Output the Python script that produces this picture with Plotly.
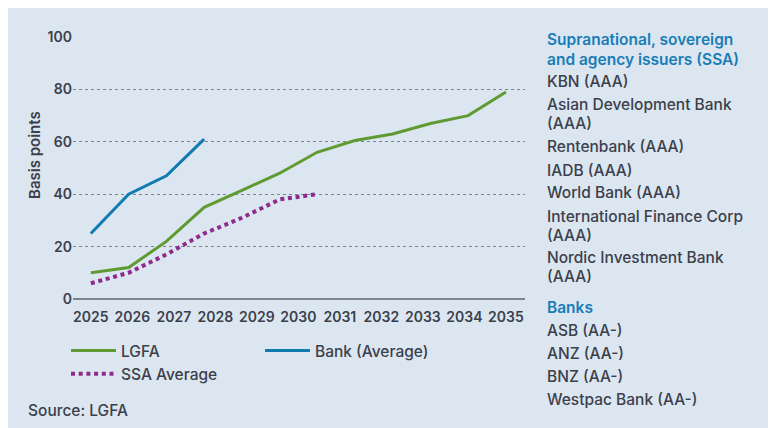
import plotly.graph_objects as go

# ---- data ----
x_points = [2025.0, 2025.91, 2026.82, 2027.73, 2028.64, 2029.55,
            2030.45, 2031.36, 2032.27, 2033.18, 2034.09, 2035.0]
lgfa = [10, 12, 22, 35, 41.5, 48, 56, 60.5, 63, 67, 70, 79]
bank_avg = [25, 40, 47, 61]
ssa_avg = [6, 10, 17, 25, 31, 38, 40]
year_ticks = list(range(2025, 2036))
y_ticks = [0, 20, 40, 60, 80, 100]

ssa_title = ["Supranational, sovereign", "and agency issuers (SSA)"]
ssa_list = ["KBN (AAA)", "Asian Development Bank", "(AAA)", "Rentenbank (AAA)",
            "IADB (AAA)", "World Bank (AAA)", "International Finance Corp",
            "(AAA)", "Nordic Investment Bank", "(AAA)"]
bank_title = ["Banks"]
bank_list = ["ASB (AA-)", "ANZ (AA-)", "BNZ (AA-)", "Westpac Bank (AA-)"]

# ---- style ----
W, H = 776, 428
OFF = 8  # page body margin offset
ML, MT = 73 - OFF, 37 - OFF
PW, PH = 452, 262
MR, MB = W - ML - PW, H - MT - PH
BG = "#dbe6f1"
TXT = "#3b404b"
BLUE_T = "#1a7db6"
FONT = "Inter"


def px_x(px):
    return (px - OFF - ML) / PW


def px_y(py):
    return 1 - (py - OFF - MT) / PH


fig = go.Figure()
fig.add_trace(go.Scatter(x=x_points[:len(lgfa)], y=lgfa, name="LGFA", mode="lines",
                         line=dict(color="#5f9b32", width=3)))
fig.add_trace(go.Scatter(x=x_points[:len(bank_avg)], y=bank_avg, name="Bank (Average)",
                         mode="lines", line=dict(color="#0f7bb1", width=3)))
fig.add_trace(go.Scatter(x=x_points[:len(ssa_avg)], y=ssa_avg, name="SSA Average",
                         mode="lines", line=dict(color="#8e2b8c", width=4, dash="4px,3.7px")))

annotations = []
annotations.append(dict(text="Basis points", textangle=-90, xref="paper", yref="paper",
                        x=px_x(34), y=px_y(155), xanchor="center", yanchor="middle",
                        showarrow=False,
                        font=dict(family=FONT, size=15, color=TXT, weight=600)))
annotations.append(dict(text="Source: LGFA", xref="paper", yref="paper",
                        x=px_x(26), y=px_y(410), xanchor="left", yanchor="middle",
                        showarrow=False, font=dict(family=FONT, size=15.5, color=TXT, weight=500)))
ys = [39.5, 59.5, 81.7, 104, 124, 146.7, 170, 192.3, 216, 235, 257.7, 276.7,
      307.3, 330.7, 353.3, 376.7, 399]
lines = ([(t, True) for t in ssa_title] + [(t, False) for t in ssa_list] +
         [(t, True) for t in bank_title] + [(t, False) for t in bank_list])
for (t, is_title), yy in zip(lines, ys):
    annotations.append(dict(text=t, xref="paper", yref="paper", x=px_x(545), y=px_y(yy),
                            xanchor="left", yanchor="middle", showarrow=False,
                            font=dict(family=FONT, size=15.5,
                                      color=BLUE_T if is_title else TXT,
                                      weight=600 if is_title else 500)))

fig.update_layout(
    width=W, height=H,
    margin=dict(l=ML, r=MR, t=MT, b=MB, pad=0),
    paper_bgcolor=BG, plot_bgcolor=BG,
    font=dict(family=FONT, color=TXT),
    showlegend=True,
    legend=dict(orientation="h", x=px_x(66), y=px_y(334), xanchor="left", yanchor="top",
                bgcolor="rgba(0,0,0,0)", itemwidth=45, entrywidth=134, entrywidthmode="pixels",
                font=dict(family=FONT, size=15.5, color=TXT, weight=500), tracegroupgap=0),
    annotations=annotations,
    xaxis=dict(range=[2024.57, 2035.46], tickmode="array", tickvals=year_ticks,
               ticktext=[str(v) for v in year_ticks], showgrid=False, zeroline=False,
               showline=False, ticks="", ticklabelstandoff=8,
               tickfont=dict(family=FONT, size=14, color=TXT, weight=600)),
    yaxis=dict(range=[0, 100], tickmode="array", tickvals=y_ticks, showgrid=True,
               gridcolor="#7d838b", griddash="dot", gridwidth=1,
               zeroline=True, zerolinecolor="#7d848c", zerolinewidth=1.5,
               showline=False, ticks="", ticklabelstandoff=0,
               tickfont=dict(family=FONT, size=14, color=TXT, weight=600)),
)

fig.write_html("out.html")
